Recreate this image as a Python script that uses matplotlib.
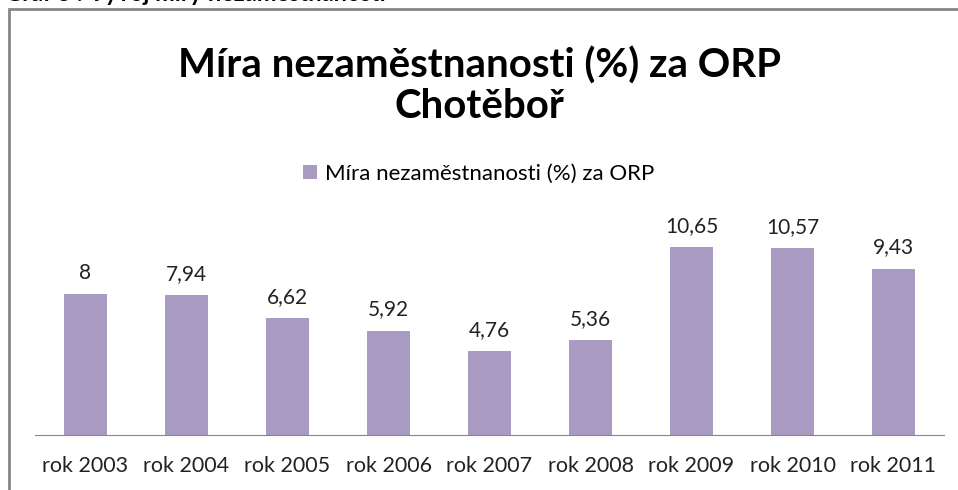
import matplotlib.pyplot as plt
from matplotlib.patches import Rectangle

years = ["rok 2003", "rok 2004", "rok 2005", "rok 2006", "rok 2007",
         "rok 2008", "rok 2009", "rok 2010", "rok 2011"]
rates = [8, 7.94, 6.62, 5.92, 4.76, 5.36, 10.65, 10.57, 9.43]
labels = ["8", "7,94", "6,62", "5,92", "4,76", "5,36", "10,65", "10,57", "9,43"]

plt.rcParams['font.family'] = ['Lato', 'DejaVu Sans']

fig = plt.figure(figsize=(9.58, 4.9), dpi=100)
W, H = 958, 490

# chart frame (cut off at right/bottom like the screenshot)
fig.patches.append(Rectangle((9 / W, -0.1), 1.2, (H - 9) / H + 0.1,
                             transform=fig.transFigure, fill=False,
                             edgecolor="#868686", linewidth=2))

# clipped caption at very top
fig.text(5 / W, 1.0 - 1 / H, "Graf 3 : Vývoj míry nezaměstnanosti",
         fontsize=17, fontweight="bold", va="baseline", ha="left")

ax = fig.add_axes([35 / W, 55 / H, 909 / W, 235 / H])
x = range(len(years))
ax.bar(x, rates, width=0.42, color="#A99BC1", label="Míra nezaměstnanosti (%) za ORP")
ax.set_xlim(-0.5, len(years) - 0.5)
ax.set_ylim(0, 235 / 17.65)

for i, (v, t) in enumerate(zip(rates, labels)):
    ax.annotate(t, (i, v), xytext=(0, 8), textcoords="offset points",
                ha="center", va="bottom", fontsize=15, color="#222222")

for s in ["top", "right", "left"]:
    ax.spines[s].set_visible(False)
ax.spines["bottom"].set_color("#868686")
ax.set_yticks([])
ax.set_xticks(list(x))
ax.set_xticklabels(years, fontsize=15.5, color="#222222")
ax.tick_params(axis="x", length=0, pad=15)

fig.text(0.5, 1 - 86 / H, "Míra nezaměstnanosti (%) za ORP\nChotěboř",
         ha="center", va="center", fontsize=29, fontweight="bold",
         linespacing=1.12)

fig.legend(loc="center", bbox_to_anchor=(0.5, 1 - 174 / H), frameon=False,
           fontsize=16, handlelength=0.6, handleheight=0.6, handletextpad=0.4)

fig.savefig("out.png", dpi=100)
